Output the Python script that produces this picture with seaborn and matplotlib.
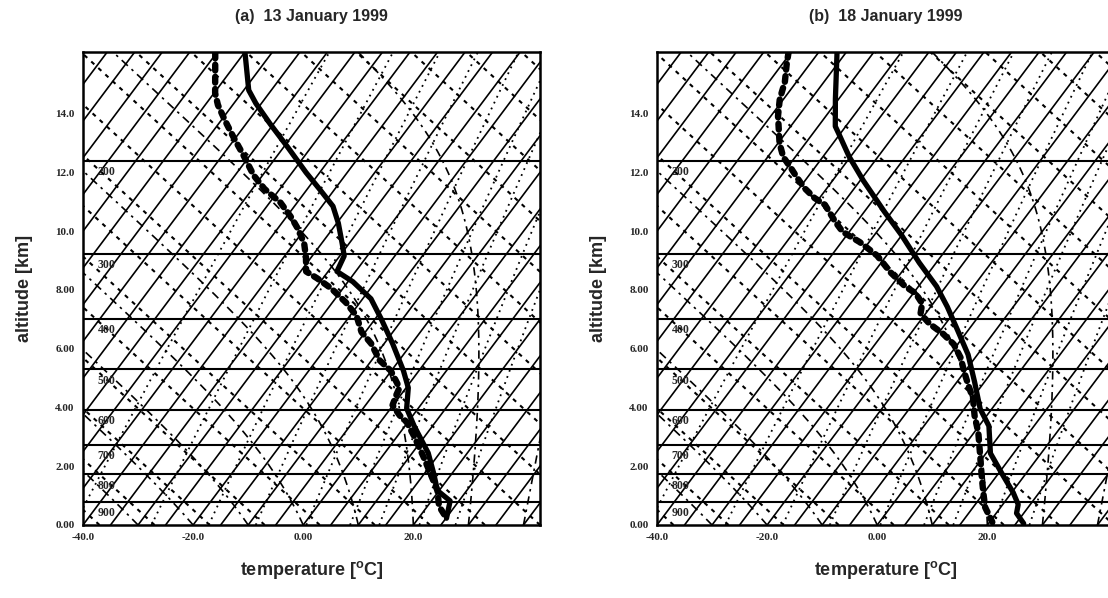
import numpy as np
import pandas as pd
import matplotlib
matplotlib.use("Agg")
import matplotlib.pyplot as plt
import seaborn as sns

# ---------------------------------------------------
# sounding data (altitude km, temperature degC)
# ---------------------------------------------------
a_temp_z = [16.08, 14.8, 14.35, 13.65, 12.84, 12.0, 11.4, 10.85, 10.27, 9.57, 9.16,
            8.63, 8.28, 7.7, 7.0, 6.18, 5.25, 4.67, 3.97, 3.38, 2.45, 1.75, 1.17, 0.82, 0.23]
a_temp_t = [-74.9, -69.1, -66.0, -60.6, -54.1, -47.5, -42.5, -38.0, -34.7, -31.2, -29.2,
            -28.4, -24.1, -18.5, -13.8, -8.5, -2.8, 0.4, 2.9, 6.6, 12.9, 16.7, 19.7, 23.4, 25.1]

a_dew_z = [16.08, 14.7, 14.3, 13.77, 13.19, 12.6, 11.9, 11.44, 10.97, 10.45, 10.04, 9.57,
           9.1, 8.63, 8.4, 8.05, 7.58, 7.12, 6.57, 6.18, 5.6, 5.25, 4.67, 4.43, 4.08, 3.73,
           3.5, 3.03, 2.33, 1.75, 1.17, 0.64, 0.23]
a_dew_t = [-80.3, -74.8, -72.7, -69.3, -65.4, -61.3, -56.6, -52.8, -48.0, -43.9, -41.0, -38.1,
           -35.9, -34.0, -31.1, -27.1, -22.6, -18.8, -15.7, -12.4, -8.5, -5.1, -1.2, -0.8, -0.1, 2.6,
           4.8, 8.0, 12.5, 16.1, 19.7, 22.1, 25.1]

b_temp_z = [16.1, 14.5, 13.57, 13.34, 12.53, 11.72, 10.67, 9.86, 8.93, 8.12, 7.43, 6.61,
            5.8, 4.87, 3.95, 3.37, 2.44, 1.7, 1.1, 0.7, 0.4, 0.05]
b_temp_t = [-71.7, -65.6, -61.9, -60.4, -55.2, -49.4, -41.4, -35.0, -28.1, -21.7, -17.0, -11.8,
            -6.7, -1.8, 2.9, 6.8, 10.8, 16.0, 20.3, 22.8, 23.7, 26.4]

b_dew_z = [16.1, 15.66, 15.08, 14.5, 13.92, 12.99, 12.53, 12.18, 11.83, 11.48, 11.13, 10.9,
           10.32, 9.98, 9.63, 9.17, 8.59, 8.12, 7.89, 7.54, 7.19, 6.85, 6.5, 6.15, 5.69, 5.22,
           4.76, 4.3, 3.72, 3.14, 2.44, 1.6, 1.05, 0.6, 0.1]
b_dew_t = [-80.5, -79.1, -77.1, -75.7, -73.7, -69.7, -67.2, -64.5, -61.9, -59.2, -55.9, -53.1,
           -48.9, -46.2, -41.7, -36.7, -31.9, -27.4, -24.6, -22.0, -20.9, -17.9, -14.0, -10.7, -7.6, -5.1,
           -2.5, 0.2, 2.8, 5.8, 8.9, 12.6, 15.1, 17.2, 20.5]

# isobars (hPa) and the altitude where they sit on the chart
isobar_hpa = [900, 800, 700, 600, 500, 400, 300, 200]
isobar_km = [0.78, 1.72, 2.72, 3.92, 5.30, 7.02, 9.22, 12.40]

x_ticks = [-40, -20, 0, 20]
x_tick_labels = ["-40.0", "-20.0", "0.00", "20.0"]
y_ticks = [0, 2, 4, 6, 8, 10, 12, 14]
y_tick_labels = ["0.00", "2.00", "4.00", "6.00", "8.00", "10.0", "12.0", "14.0"]

titles = ["(a)  13 January 1999", "(b)  18 January 1999"]

SKEW = 4.0          # deg C shift per km
XMIN, XMAX = -40, 43
ZMAX = 16.1

# pressure as function of altitude, from the isobar positions
p_fit = np.polyfit(isobar_km, np.log(isobar_hpa), 1)


def pres(z):
    return np.exp(np.polyval(p_fit, z))


def esat(tc):
    return 6.112 * np.exp(17.67 * tc / (tc + 243.5))


def moist_adiabat(t0, z):
    # pseudo-adiabatic lapse rate, simple euler steps
    g, cp, rd, lv, eps = 9.81, 1005.0, 287.0, 2.5e6, 0.622
    t = np.empty_like(z)
    t[0] = t0
    for i in range(1, len(z)):
        tk = t[i - 1] + 273.15
        p = pres(z[i - 1])
        es = esat(t[i - 1])
        rs = eps * es / max(p - es, 1e-3)
        gam = g * (1 + lv * rs / (rd * tk)) / (cp + lv ** 2 * rs * eps / (rd * tk ** 2))
        t[i] = t[i - 1] - gam * (z[i] - z[i - 1]) * 1000
    return t


def draw_diagram(ax):
    z = np.linspace(0, ZMAX, 200)
    # skewed isotherms
    for t in np.arange(-120, 50, 5):
        ax.plot(t + SKEW * z, z, color="black", lw=1.2, zorder=1)
    # dry adiabats
    for t0 in np.arange(-77, 160, 10):
        ax.plot(t0 - 9.8 * z + SKEW * z, z, color="black", lw=1.5,
                linestyle=(0, (2.0, 2.6)), zorder=1)
    # moist adiabats
    for t0 in np.arange(-30, 50, 10):
        tm = moist_adiabat(t0, z)
        ax.plot(tm + SKEW * z, z, color="black", lw=1.2,
                linestyle=(0, (5, 3, 1.5, 3)), zorder=1)
    # mixing ratio lines (g/kg)
    for w in [0.1, 0.4, 1, 2, 4, 7, 10, 16, 24]:
        e = pres(z) * w / (622.0 + w)
        lg = np.log(e / 6.112)
        td = 243.5 * lg / (17.67 - lg)
        ax.plot(td + SKEW * z, z, color="black", lw=1.3,
                linestyle=(0, (1.0, 2.6)), zorder=1)
    # isobars
    for p, zk in zip(isobar_hpa, isobar_km):
        ax.axhline(zk, color="black", lw=1.5, zorder=2)
        ax.text(-37.3, zk - 0.18, str(p), fontsize=8.5, fontweight="bold",
                family="Liberation Serif", va="top", ha="left", zorder=3)


def draw_sounding(ax, tz, tt, dz, dt):
    temp = pd.DataFrame({"z": tz, "t": tt})
    temp["x"] = temp["t"] + SKEW * temp["z"]
    dew = pd.DataFrame({"z": dz, "t": dt})
    dew["x"] = dew["t"] + SKEW * dew["z"]
    sns.lineplot(data=temp, x="x", y="z", sort=False, estimator=None, ax=ax,
                 color="black", linewidth=3.8, zorder=5)
    sns.lineplot(data=dew, x="x", y="z", sort=False, estimator=None, ax=ax,
                 color="black", linewidth=4.6, linestyle=(0, (0.9, 1.0)),
                 dash_capstyle="round", zorder=5)


sns.set_style("white")
plt.rcParams["font.family"] = ["Liberation Sans", "DejaVu Sans"]

fig = plt.figure(figsize=(11.08, 5.98), dpi=100)
ax_a = fig.add_axes([83 / 1108, 73 / 598, 457 / 1108, 473 / 598])
ax_b = fig.add_axes([657 / 1108, 73 / 598, 457 / 1108, 473 / 598])

panels = [(ax_a, a_temp_z, a_temp_t, a_dew_z, a_dew_t),
          (ax_b, b_temp_z, b_temp_t, b_dew_z, b_dew_t)]

for (ax, tz, tt, dz, dt), title in zip(panels, titles):
    draw_diagram(ax)
    draw_sounding(ax, tz, tt, dz, dt)
    ax.set_xlim(XMIN, XMAX)
    ax.set_ylim(0, ZMAX)
    ax.set_xticks(x_ticks)
    ax.set_xticklabels(x_tick_labels)
    ax.set_yticks(y_ticks)
    ax.set_yticklabels(y_tick_labels)
    for lab in ax.get_xticklabels() + ax.get_yticklabels():
        lab.set_family("Liberation Serif")
        lab.set_fontweight("bold")
        lab.set_fontsize(8)
    ax.tick_params(direction="in", length=4, width=1.0, color="black", pad=6)
    for sp in ax.spines.values():
        sp.set_color("black")
        sp.set_linewidth(1.8)
    ax.set_xlabel("temperature [$\\mathregular{^o}$C]", fontsize=13, fontweight="bold", labelpad=12)
    ax.set_ylabel("altitude [km]", fontsize=13, fontweight="bold", labelpad=16)
    ax.set_title(title, fontsize=11.5, fontweight="bold", pad=22)

fig.savefig("out.png", dpi=100)
